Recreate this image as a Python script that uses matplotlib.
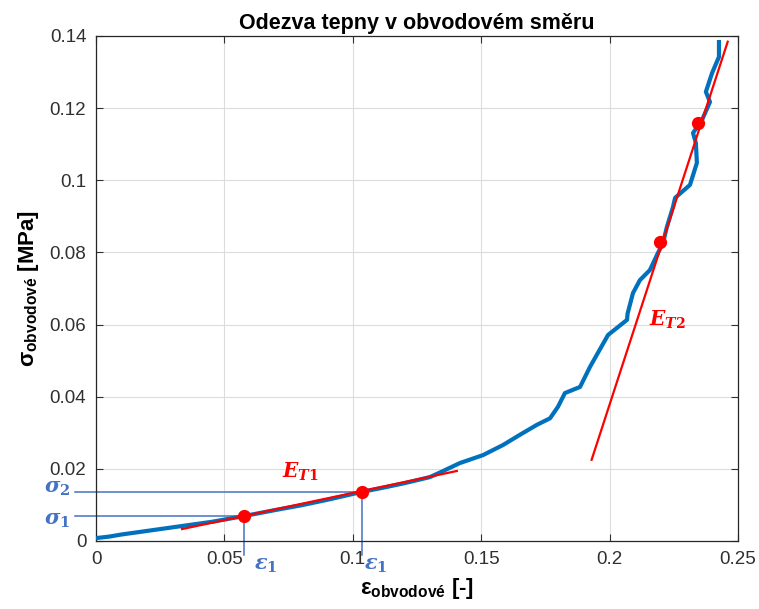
import numpy as np
import matplotlib.pyplot as plt

plt.rcParams['font.family'] = ['Liberation Sans', 'DejaVu Sans']
plt.rcParams['mathtext.fontset'] = 'custom'
plt.rcParams['mathtext.rm'] = 'DejaVu Serif:bold'
plt.rcParams['mathtext.it'] = 'DejaVu Serif:italic:bold'
plt.rcParams['mathtext.sf'] = 'Liberation Sans:bold'

eps = [0.0, 0.005, 0.01, 0.02, 0.034, 0.045, 0.0576, 0.07, 0.08, 0.09, 0.1035,
       0.112, 0.12, 0.13, 0.134, 0.1417, 0.1507, 0.1585, 0.165, 0.1717, 0.1768,
       0.1799, 0.1826, 0.1885, 0.1924, 0.1994, 0.2068, 0.207, 0.2091, 0.2118,
       0.2157, 0.2188, 0.2208, 0.2223, 0.2247, 0.2255, 0.2313, 0.234, 0.2336,
       0.2325, 0.236, 0.2391, 0.2375, 0.2399, 0.2426, 0.2426]
sig = [0.0008, 0.0012, 0.0018, 0.0028, 0.0042, 0.0053, 0.0069, 0.0086, 0.0099, 0.0114, 0.0136,
       0.0148, 0.0160, 0.0177, 0.0190, 0.0216, 0.0238, 0.0266, 0.0294, 0.0322, 0.0340,
       0.0372, 0.0410, 0.0427, 0.0483, 0.0571, 0.0613, 0.0630, 0.0687, 0.0723,
       0.0751, 0.0798, 0.0826, 0.0870, 0.0926, 0.0951, 0.0987, 0.1048, 0.1103,
       0.1131, 0.1167, 0.1217, 0.1245, 0.1297, 0.1342, 0.1383]

# tangent points and tangent lines
pt_eps = [0.0576, 0.1035, 0.2198, 0.2346]
pt_sig = [0.0069, 0.0136, 0.0829, 0.1160]
t1_eps = [0.0335, 0.1405]
t1_sig = [0.0033, 0.0194]
t2_eps = [0.193, 0.246]
t2_sig = [0.0225, 0.1384]

guide = '#4472C4'
fig = plt.figure(figsize=(7.59, 6.09), dpi=100)
ax = fig.add_axes([0.1265, 0.1117, 0.8458, 0.8293])

ax.plot(eps, sig, color='#0072BD', lw=3.0, solid_joinstyle='round', zorder=3)
ax.plot(t1_eps, t1_sig, color='red', lw=1.6, zorder=4)
ax.plot(t2_eps, t2_sig, color='red', lw=1.6, zorder=4)
ax.plot(pt_eps, pt_sig, 'o', color='red', ms=8.5, zorder=5)

# guide lines to sigma_1, sigma_2, eps_1
for e, s in zip(pt_eps[:2], pt_sig[:2]):
    ax.plot([-0.0082, e], [s, s], color=guide, lw=1.1, clip_on=False, zorder=2)
    ax.plot([e, e], [s, -0.0039], color=guide, lw=1.1, clip_on=False, zorder=2)

ax.text(-0.0150, 0.0146, r'$\sigma_2$', color=guide, fontsize=15, ha='center', va='center')
ax.text(-0.0150, 0.0058, r'$\sigma_1$', color=guide, fontsize=15, ha='center', va='center')
ax.text(0.0660, -0.0068, r'$\varepsilon_1$', color=guide, fontsize=15, ha='center', va='center')
ax.text(0.1090, -0.0068, r'$\varepsilon_1$', color=guide, fontsize=15, ha='center', va='center')
ax.text(0.0794, 0.0191, r'$E_{T1}$', color='red', fontsize=14.5, ha='center', va='center')
ax.text(0.2227, 0.0614, r'$E_{T2}$', color='red', fontsize=14.5, ha='center', va='center')

ax.set_xlim(0, 0.25)
ax.set_ylim(0, 0.14)
ax.set_xticks([0, 0.05, 0.1, 0.15, 0.2, 0.25])
ax.set_xticklabels(['0', '0.05', '0.1', '0.15', '0.2', '0.25'])
ax.set_yticks([0, 0.02, 0.04, 0.06, 0.08, 0.1, 0.12, 0.14])
ax.set_yticklabels(['0', '0.02', '0.04', '0.06', '0.08', '0.1', '0.12', '0.14'])
ax.tick_params(direction='in', length=5, width=0.8, colors='#303030', labelsize=13.5,
               top=True, right=True, pad=7)
ax.grid(True, color='#dcdcdc', lw=0.8)
ax.set_axisbelow(True)
for sp in ax.spines.values():
    sp.set_color('#262626')
    sp.set_linewidth(0.9)

ax.set_title('Odezva tepny v obvodovém směru', fontsize=15.5, fontweight='bold', pad=5)
ax.set_xlabel(r'ε$_{\mathsf{obvodové}}$ [-]', fontsize=16, fontweight='bold', labelpad=6)
ax.set_ylabel(r'σ$_{\mathsf{obvodové}}$ [MPa]', fontsize=16, fontweight='bold', labelpad=6)

fig.savefig('out.png', dpi=100)
